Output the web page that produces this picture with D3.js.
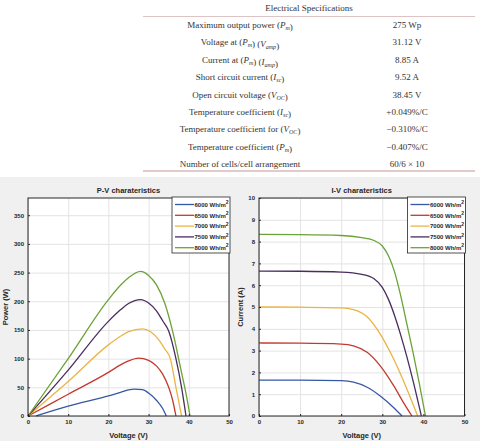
<!DOCTYPE html>
<html>
<head>
<meta charset="utf-8">
<script src="https://cdn.jsdelivr.net/npm/d3@7"></script>
<style>
body { margin: 0; background: #fff; }
.spec { font-family: "Liberation Serif", "DejaVu Serif", serif; font-size: 9px; fill: #333; }
.tick text { font-family: "Liberation Sans", Arial, sans-serif; font-size: 6px; font-weight: bold; fill: #262626; }
.title, .axis-label { font-family: "Liberation Sans", Arial, sans-serif; font-weight: bold; fill: #262626; }
.legend-text { font-family: "Liberation Sans", Arial, sans-serif; font-size: 6px; font-weight: bold; fill: #262626; }
</style>
</head>
<body>
<div id="chart"></div>
<script>
// table
const specTitle = "Electrical Specifications";
const specLabels = [
    "Maximum output power ({P|m})",
    "Voltage at ({P|m}) ({V|amp})",
    "Current at ({P|m}) ({I|amp})",
    "Short circuit current ({I|sc})",
    "Open circuit voltage ({V|OC})",
    "Temperature coefficient ({I|sc})",
    "Temperature coefficient for ({V|OC})",
    "Temperature coefficient ({P|m})",
    "Number of cells/cell arrangement"
];
const specValues = ["275 Wp", "31.12 V", "8.85 A", "9.52 A", "38.45 V", "+0.049%/C", "\u22120.310%/C", "\u22120.407%/C", "60/6 \u00d7 10"];

// charts
const irradiance = ["6000", "6500", "7000", "7500", "8000"];
const seriesColors = ["#3656a6", "#c4392f", "#ebb444", "#4a2c5e", "#6aa336"];
const voltTicks = [0, 10, 20, 30, 40, 50];
const powerTicks = [0, 50, 100, 150, 200, 250, 300, 350];
const currentTicks = [0, 1, 2, 3, 4, 5, 6, 7, 8, 9, 10];

// P-V points [V, W]
const pv6000 = [[2, 0], [10, 17], [20, 35], [23, 41], [25, 45.5], [26.5, 47], [28.5, 46], [30, 40], [32, 27], [33.5, 13], [34.4, 0]];
const pv6500 = [[0, 0], [10, 38], [20, 76], [23, 89], [25, 96], [27.5, 101], [30, 97], [32, 87], [33.5, 73], [35, 50], [36, 27], [36.8, 0]];
const pv7000 = [[0, 0], [10, 60], [20, 124], [23, 139], [25, 147], [28.5, 152], [30.5, 147], [32.5, 133], [34, 117], [35.4, 100], [36.8, 50], [38.2, 0]];
const pv7500 = [[0, 0], [10, 80], [20, 165], [23, 185], [25, 196], [28, 203], [30, 197], [32, 183], [33.5, 166], [35, 148], [36.8, 100], [38.2, 50], [39.3, 0]];
const pv8000 = [[0, 0], [10, 100], [20, 203], [23, 228], [25, 241], [28, 252], [30, 245], [32, 228], [34, 197], [36, 147], [38, 82], [39.5, 32], [40.3, 0]];

// I-V points [V, A]
const iv6000 = [[0, 1.65], [10, 1.65], [20, 1.62], [23, 1.55], [26.3, 1.32], [29.5, 0.92], [32.8, 0.38], [34.8, 0]];
const iv6500 = [[0, 3.35], [10, 3.34], [20, 3.3], [23, 3.22], [26.3, 2.92], [29.5, 2.3], [32.8, 1.38], [35.2, 0.6], [37.2, 0]];
const iv7000 = [[0, 5.0], [10, 4.99], [20, 4.96], [23, 4.88], [26.3, 4.55], [29.5, 3.76], [32.8, 2.6], [36, 1.23], [38.6, 0]];
const iv7500 = [[0, 6.65], [10, 6.64], [20, 6.6], [25, 6.5], [28, 6.3], [30, 5.9], [31.5, 5.35], [33, 4.6], [34.5, 3.7], [36, 2.7], [37.5, 1.6], [39.5, 0]];
const iv8000 = [[0, 8.33], [10, 8.32], [20, 8.28], [25, 8.18], [28, 8.05], [30, 7.8], [31.5, 7.35], [33, 6.6], [34.5, 5.5], [36, 4.2], [37.5, 2.9], [39, 1.5], [40.5, 0]];

const width = 480;
const height = 441;
const svg = d3.select("#chart")
    .append("svg")
    .attr("width", width)
    .attr("height", height);

// ---- spec table ----
const table = svg.append("g");
const tableLeft = 143, tableRight = 475;

table.append("text")
    .attr("class", "spec")
    .attr("x", (tableLeft + tableRight) / 2)
    .attr("y", 11)
    .attr("text-anchor", "middle")
    .text(specTitle);

table.append("line")
    .attr("x1", tableLeft).attr("x2", tableRight)
    .attr("y1", 16.5).attr("y2", 16.5)
    .attr("stroke", "#dcc4c4").attr("stroke-width", 1);

table.append("line")
    .attr("x1", tableLeft).attr("x2", tableRight)
    .attr("y1", 171).attr("y2", 171)
    .attr("stroke", "#c99494").attr("stroke-width", 1);

// writes "text {P|m} text" with italic subscripts
function writeLabel(sel, label) {
    const parts = label.split(/(\{[^}]+\})/);
    parts.forEach(p => {
        if (!p) return;
        const m = p.match(/^\{(.+)\|(.+)\}$/);
        if (m) {
            sel.append("tspan").style("font-style", "italic").text(m[1]);
            sel.append("tspan").style("font-style", "italic")
                .attr("font-size", "6px").attr("dy", 2).text(m[2]);
            sel.append("tspan").attr("dy", -2).text("");
        } else {
            sel.append("tspan").text(p);
        }
    });
}

specLabels.forEach((label, i) => {
    const y = 25 + i * 17.4 + 3;
    const t = table.append("text")
        .attr("class", "spec")
        .attr("x", 240)
        .attr("y", y)
        .attr("text-anchor", "middle");
    writeLabel(t, label);
    table.append("text")
        .attr("class", "spec")
        .attr("x", 407)
        .attr("y", y)
        .attr("text-anchor", "middle")
        .text(specValues[i]);
});

// ---- figure background ----
svg.append("rect")
    .attr("x", 0).attr("y", 177)
    .attr("width", width).attr("height", height - 177)
    .attr("fill", "#f0f0f0");

function drawChart(cfg) {
    const g = svg.append("g");
    const xScale = d3.scaleLinear().domain([0, 50]).range([cfg.left, cfg.right]);
    const yScale = d3.scaleLinear().domain(cfg.yDomain).range([cfg.bottom, cfg.top]);
    const innerW = cfg.right - cfg.left;
    const innerH = cfg.bottom - cfg.top;

    g.append("rect")
        .attr("x", cfg.left).attr("y", cfg.top)
        .attr("width", innerW).attr("height", innerH)
        .attr("fill", "#fff");

    // grid
    g.append("g")
        .attr("transform", `translate(0, ${cfg.bottom})`)
        .call(d3.axisBottom(xScale).tickValues(voltTicks).tickSize(-innerH).tickFormat(""))
        .call(a => a.select(".domain").remove())
        .selectAll("line").attr("stroke", "#e3e3e3");
    g.append("g")
        .attr("transform", `translate(${cfg.left}, 0)`)
        .call(d3.axisLeft(yScale).tickValues(cfg.yTicks).tickSize(-innerW).tickFormat(""))
        .call(a => a.select(".domain").remove())
        .selectAll("line").attr("stroke", "#e3e3e3");

    // curves
    const line = d3.line()
        .x(d => xScale(d[0]))
        .y(d => yScale(d[1]))
        .curve(d3.curveMonotoneX);

    cfg.series.forEach((s, i) => {
        g.append("path")
            .datum(s)
            .attr("fill", "none")
            .attr("stroke", seriesColors[i])
            .attr("stroke-width", 1.3)
            .attr("d", line);
    });

    // axes
    g.append("g")
        .attr("transform", `translate(0, ${cfg.bottom})`)
        .call(d3.axisBottom(xScale).tickValues(voltTicks).tickSize(-2).tickPadding(4))
        .call(a => a.select(".domain").remove())
        .selectAll("line").attr("stroke", "#262626");
    g.append("g")
        .attr("transform", `translate(${cfg.left}, 0)`)
        .call(d3.axisLeft(yScale).tickValues(cfg.yTicks).tickSize(-2).tickPadding(4))
        .call(a => a.select(".domain").remove())
        .selectAll("line").attr("stroke", "#262626");

    g.append("rect")
        .attr("x", cfg.left).attr("y", cfg.top)
        .attr("width", innerW).attr("height", innerH)
        .attr("fill", "none")
        .attr("stroke", "#262626")
        .attr("stroke-width", 1);

    g.append("text")
        .attr("class", "title")
        .attr("x", (cfg.left + cfg.right) / 2)
        .attr("y", cfg.top - 5)
        .attr("text-anchor", "middle")
        .style("font-size", "7.5px")
        .text(cfg.title);

    g.append("text")
        .attr("class", "axis-label")
        .attr("x", (cfg.left + cfg.right) / 2)
        .attr("y", 438)
        .attr("text-anchor", "middle")
        .style("font-size", "7.5px")
        .text("Voltage (V)");

    g.append("text")
        .attr("class", "axis-label")
        .attr("transform", `translate(${cfg.yLabelX}, ${(cfg.top + cfg.bottom) / 2}) rotate(-90)`)
        .attr("text-anchor", "middle")
        .style("font-size", "7.5px")
        .text(cfg.yLabel);

    // legend
    const legW = 58, legH = 56;
    const legend = g.append("g")
        .attr("transform", `translate(${cfg.right - legW + 1}, ${cfg.top - 1})`);
    legend.append("rect")
        .attr("width", legW).attr("height", legH)
        .attr("fill", "#fff")
        .attr("stroke", "#262626").attr("stroke-width", 0.8);
    const item = legend.selectAll(".legend")
        .data(irradiance)
        .enter()
        .append("g")
        .attr("class", "legend")
        .attr("transform", (d, i) => `translate(0, ${7.5 + i * 10.8})`);
    item.append("line")
        .attr("x1", 3).attr("x2", 22)
        .attr("stroke", (d, i) => seriesColors[i])
        .attr("stroke-width", 1.3);
    const lt = item.append("text")
        .attr("class", "legend-text")
        .attr("x", 22.5)
        .attr("y", 2.2);
    lt.append("tspan").text(d => d + " Wh/m");
    lt.append("tspan").attr("dy", -2.5).style("font-size", "5px").text("2");
}

drawChart({
    left: 28, right: 229, top: 198, bottom: 416,
    yDomain: [0, 380], yTicks: powerTicks,
    series: [pv6000, pv6500, pv7000, pv7500, pv8000],
    title: "P-V charateristics", yLabel: "Power (W)", yLabelX: 8
});

drawChart({
    left: 259, right: 464.5, top: 198, bottom: 416,
    yDomain: [0, 10], yTicks: currentTicks,
    series: [iv6000, iv6500, iv7000, iv7500, iv8000],
    title: "I-V charateristics", yLabel: "Current (A)", yLabelX: 243
});
</script>
</body>
</html>
